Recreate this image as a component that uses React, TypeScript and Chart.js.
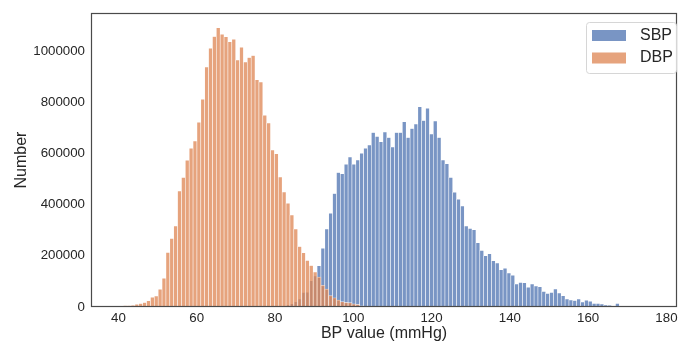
import React, { useEffect, useRef } from "react";
import { Chart, registerables } from "chart.js";

Chart.register(...registerables);

// Histogram bins (mmHg): left edge of first bin and bin width
const BIN_START = 40.26;
const BIN_WIDTH = 0.99;

const SERIES_NAMES = ["SBP", "DBP"];

// DBP counts, starting at bin 0
const DBP_FIRST_BIN = 0;
const DBP_COUNTS = [
  4500, 6000, 6000, 6500, 10500, 13500, 17500, 24000, 38000, 43000,
  69000, 112000, 213000, 268000, 316000, 453000, 506000, 573000, 620000, 648000,
  721000, 811000, 937000, 1010000, 1056000, 1090000, 1065000, 1055000, 1036000, 1046000,
  965000, 1014000, 957000, 974000, 982000, 887000, 879000, 749000, 719000, 613000,
  598000, 508000, 449000, 405000, 359000, 305000, 236000, 212000, 182000, 162000,
  137000, 117000, 85000, 70000, 45000, 36000, 27000, 21000, 18000, 17000,
  12000, 10000, 5000, 3000, 2500, 2000, 1500, 1000,
];

// SBP counts, starting at bin 40
const SBP_FIRST_BIN = 40;
const SBP_COUNTS = [
  1000, 2000, 4000, 8000, 13000, 21000, 31000, 57000, 58000, 103000,
  121000, 161000, 229000, 305000, 366000, 443000, 525000, 520000, 557000, 586000,
  557000, 574000, 600000, 620000, 633000, 681000, 666000, 645000, 683000, 662000,
  625000, 681000, 681000, 723000, 662000, 697000, 715000, 782000, 728000, 776000,
  676000, 726000, 662000, 574000, 559000, 506000, 448000, 421000, 394000, 316000,
  307000, 302000, 251000, 221000, 200000, 208000, 181000, 172000, 146000, 151000,
  133000, 124000, 90000, 96000, 95000, 77000, 90000, 82000, 79000, 61000,
  53000, 57000, 70000, 55000, 44000, 31000, 27000, 25000, 31000, 20000,
  26000, 23000, 14000, 14000, 12000, 8000, 6500, 4000, 14000, 4000,
  1500, 1500, 4000, 1000,
];

const X_TICKS = [40, 60, 80, 100, 120, 140, 160, 180];
const Y_TICKS = [0, 200000, 400000, 600000, 800000, 1000000];
const X_MIN = 33.0;
const X_MAX = 182.7;
const Y_MAX = 1148000;

const SBP_FILL = "rgba(76,114,176,0.75)";
const DBP_FILL = "rgba(221,132,82,0.75)";
const EDGE = "rgba(255,255,255,0.75)";
const TEXT = "#262626";
const FONT = "'Liberation Sans', Arial, sans-serif";

const toPoints = (counts: number[], first: number) =>
  counts.map((y, i) => ({ x: BIN_START + BIN_WIDTH * (first + i + 0.5), y }));

const framePlugin = {
  id: "frameAndLegend",
  afterDraw(chart: any) {
    const { ctx, chartArea } = chart;
    const { left, right, top, bottom } = chartArea;
    ctx.save();
    ctx.strokeStyle = "#4a4a4a";
    ctx.lineWidth = 1.2;
    ctx.strokeRect(left + 0.5, top + 0.5, right - left - 1, bottom - top - 1);

    // legend
    const bx = 586.5, by = 22.5, bw = 90, bh = 51, r = 3;
    ctx.beginPath();
    ctx.moveTo(bx + r, by);
    ctx.lineTo(bx + bw - r, by);
    ctx.quadraticCurveTo(bx + bw, by, bx + bw, by + r);
    ctx.lineTo(bx + bw, by + bh - r);
    ctx.quadraticCurveTo(bx + bw, by + bh, bx + bw - r, by + bh);
    ctx.lineTo(bx + r, by + bh);
    ctx.quadraticCurveTo(bx, by + bh, bx, by + bh - r);
    ctx.lineTo(bx, by + r);
    ctx.quadraticCurveTo(bx, by, bx + r, by);
    ctx.closePath();
    ctx.fillStyle = "rgba(255,255,255,0.8)";
    ctx.fill();
    ctx.strokeStyle = "#d6d6d6";
    ctx.lineWidth = 1;
    ctx.stroke();

    const fills = [SBP_FILL, DBP_FILL];
    const rowsY = [35.5, 58];
    ctx.font = `16px ${FONT}`;
    ctx.textBaseline = "middle";
    ctx.textAlign = "left";
    SERIES_NAMES.forEach((name, i) => {
      ctx.fillStyle = fills[i];
      ctx.fillRect(592, rowsY[i] - 5.5, 34, 11);
      ctx.fillStyle = TEXT;
      ctx.fillText(name, 640, rowsY[i]);
    });
    ctx.restore();
  },
};

export default function App() {
  const ref = useRef<HTMLCanvasElement | null>(null);

  useEffect(() => {
    if (!ref.current) return;
    const tickFont = { family: FONT, size: 13.3 };
    const titleFont = { family: FONT, size: 16, lineHeight: 1 };
    const common = {
      borderColor: EDGE,
      borderWidth: { top: 0.6, left: 0.6, right: 0.6, bottom: 0 },
      borderSkipped: false,
      barPercentage: 1,
      categoryPercentage: 1,
      grouped: false,
    };
    const chart = new Chart(ref.current, {
      type: "bar",
      data: {
        datasets: [
          {
            label: SERIES_NAMES[0],
            data: toPoints(SBP_COUNTS, SBP_FIRST_BIN),
            backgroundColor: SBP_FILL,
            order: 1,
            ...common,
          } as any,
          {
            label: SERIES_NAMES[1],
            data: toPoints(DBP_COUNTS, DBP_FIRST_BIN),
            backgroundColor: DBP_FILL,
            order: 0,
            ...common,
          } as any,
        ],
      },
      options: {
        animation: false,
        responsive: true,
        maintainAspectRatio: false,
        layout: { padding: { left: 0, right: 1, top: 13, bottom: 0 } },
        plugins: { legend: { display: false }, tooltip: { enabled: false } },
        scales: {
          x: {
            type: "linear",
            min: X_MIN,
            max: X_MAX,
            offset: false,
            grid: { display: false, drawTicks: false, offset: false },
            border: { display: false },
            afterBuildTicks: (s: any) => {
              s.ticks = X_TICKS.map((v) => ({ value: v }));
            },
            afterFit: (s: any) => {
              s.height = 36;
              s.paddingLeft = 0;
              s.paddingRight = 0;
            },
            ticks: {
              font: tickFont,
              color: TEXT,
              padding: 3,
              maxRotation: 0,
              autoSkip: false,
              callback: (v: any) => String(v),
            },
            title: {
              display: true,
              text: "BP value (mmHg)",
              font: titleFont,
              color: TEXT,
              padding: { top: 0, bottom: 1.5 },
            },
          },
          y: {
            type: "linear",
            min: 0,
            max: Y_MAX,
            grid: { display: false, drawTicks: false },
            border: { display: false },
            afterBuildTicks: (s: any) => {
              s.ticks = Y_TICKS.map((v) => ({ value: v }));
            },
            afterFit: (s: any) => {
              s.width = 91;
              s.paddingTop = 0;
              s.paddingBottom = 0;
            },
            ticks: {
              font: tickFont,
              color: TEXT,
              padding: 6,
              callback: (v: any) => String(v),
            },
            title: {
              display: true,
              text: "Number",
              font: titleFont,
              color: TEXT,
              padding: { top: 14, bottom: 0 },
            },
          },
        },
      } as any,
      plugins: [framePlugin],
    });
    return () => chart.destroy();
  }, []);

  return (
    <div style={{ position: "fixed", left: 0, top: 0, width: 678, height: 343 }}>
      <canvas ref={ref} />
    </div>
  );
}
